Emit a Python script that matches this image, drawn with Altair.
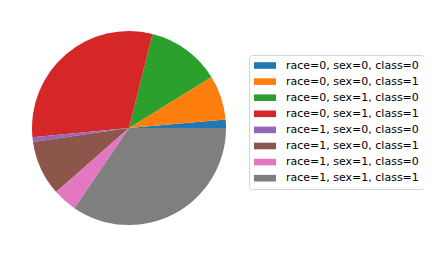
import math
import altair as alt
import pandas as pd

labels = [
    "race=0, sex=0, class=0",
    "race=0, sex=0, class=1",
    "race=0, sex=1, class=0",
    "race=0, sex=1, class=1",
    "race=1, sex=0, class=0",
    "race=1, sex=0, class=1",
    "race=1, sex=1, class=0",
    "race=1, sex=1, class=1",
]
shares = [1.39, 7.44, 12.25, 30.44, 0.78, 9.19, 4.00, 34.51]
colors = ["#1f77b4", "#ff7f0e", "#2ca02c", "#d62728",
          "#9467bd", "#8c564b", "#e377c2", "#7f7f7f"]

df = pd.DataFrame({"group": labels, "share": shares, "idx": list(range(len(labels)))})

chart = alt.Chart(df).mark_arc(radius=97).encode(
    theta=alt.Theta("share:Q", stack=True,
                    scale=alt.Scale(range=[math.pi / 2, math.pi / 2 - 2 * math.pi])),
    order=alt.Order("idx:Q"),
    color=alt.Color(
        "group:N",
        scale=alt.Scale(domain=labels, range=colors),
        legend=alt.Legend(
            title=None,
            orient="none",
            legendX=241,
            legendY=47,
            symbolType="M-2,-0.6H2V0.6H-2Z",
            symbolSize=121,
            symbolOffset=5.5,
            symbolStrokeWidth=0,
            labelFont="DejaVu Sans",
            labelFontSize=11,
            labelColor="black",
            labelLimit=300,
            labelOffset=15.5,
            rowPadding=4.1,
            padding=5,
            strokeColor="#d4d4d4",
            fillColor="white",
            cornerRadius=3,
        ),
    ),
    x=alt.value(121),
    y=alt.value(120),
).properties(
    width=416, height=242, autosize=alt.AutoSizeParams(type="none"), padding=0
).configure_view(stroke=None)

chart.save("out.html", embed_options={"renderer": "svg", "actions": False})
